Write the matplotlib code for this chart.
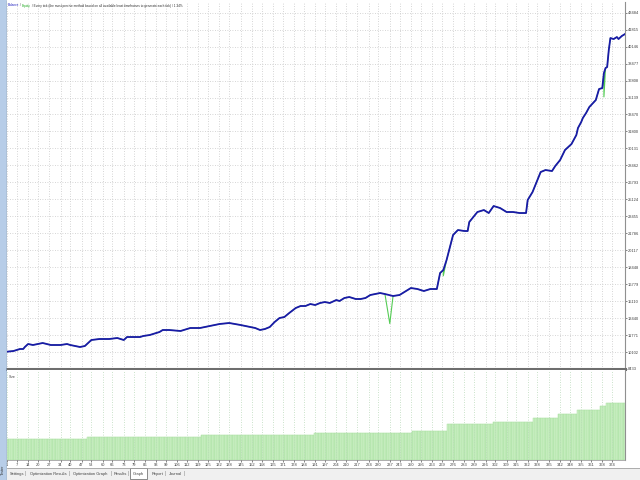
import matplotlib
matplotlib.use("Agg")
import matplotlib.pyplot as plt
from matplotlib import font_manager
from matplotlib.patches import Rectangle
from matplotlib.lines import Line2D
import numpy as np

# ---------------- data ----------------
bal_trade = [1, 5, 9, 11, 12, 14, 17, 23, 28, 34, 38, 40, 46, 49, 51, 53, 58, 64, 69, 73,
             75, 79, 83, 85, 89, 93, 95, 97, 101, 108, 114, 120, 126, 132, 138, 145, 151, 154,
             157, 160, 163, 166, 169, 172, 175, 179, 182, 185, 188, 191, 194, 197, 200, 204,
             206, 209, 212, 216, 219, 222, 225, 228, 231, 234, 239, 243, 250, 254, 258, 262,
             266, 268, 270, 272, 276, 279, 283, 285, 286, 291, 295, 298, 301, 305, 309, 313,
             317, 321, 322, 325, 328, 330, 333, 337, 339, 342, 345, 349, 352, 353, 355, 356,
             358, 360, 364, 366, 368, 369, 370, 371, 372, 373, 375, 377, 378, 380, 382]
bal_value = [10135, 10204, 10400, 10400, 10597, 10892, 10794, 10990, 10794, 10794, 10892,
             10794, 10597, 10695, 10990, 11285, 11384, 11384, 11482, 11285, 11580, 11580,
             11580, 11679, 11777, 11974, 12072, 12269, 12269, 12171, 12466, 12466, 12663,
             12859, 12958, 12761, 12564, 12466, 12269, 12367, 12564, 13056, 13449, 13548,
             13941, 14433, 14630, 14630, 14826, 14728, 14925, 15023, 14925, 15220, 15122,
             15417, 15515, 15318, 15318, 15417, 15712, 15810, 15908, 15810, 15613, 15712,
             16400, 16302, 16105, 16302, 16302, 17875, 18171, 19154, 21613, 22105, 22007,
             22007, 22892, 23876, 24072, 23777, 24466, 24269, 23876, 23876, 23777, 23777,
             25056, 25842, 27023, 27810, 28007, 27908, 28400, 28990, 29974, 30564, 31449,
             32138, 32728, 33122, 33613, 34203, 34892, 35974, 36072, 37548, 38040, 38138,
             39810, 40990, 40892, 41089, 40892, 41187, 41384]

# equity dips (trade, equity value)
eq_dip_trade = [237, 270, 369]
eq_dip_value = [12900, 17600, 35200]

# lot size steps (lot, number of trades)
size_lot = [0.10, 0.11, 0.12, 0.13, 0.14, 0.17, 0.18, 0.20, 0.22, 0.24, 0.26, 0.27]
size_count = [50, 70, 70, 60, 22, 28, 25, 15, 12, 14, 4, 12]

y_ticks = [8433, 10102, 11771, 13440, 15110, 16779, 18448, 20117, 21786, 23455, 25124,
           26793, 28462, 30131, 31800, 33470, 35139, 36808, 38477, 40146, 41815, 43484]
x_ticks = [1, 7, 14, 20, 27, 34, 40, 47, 53, 60, 66, 73, 79, 86, 93, 99, 106, 112, 119, 125,
           132, 138, 145, 152, 158, 165, 171, 178, 184, 191, 197, 204, 210, 217, 224, 230,
           237, 243, 250, 256, 263, 269, 276, 283, 289, 296, 302, 309, 315, 322, 328, 335,
           342, 348, 355, 361, 368, 374]
tabs = ["Settings", "Optimization Results", "Optimization Graph", "Results", "Graph",
        "Report", "Journal"]
header = ["Balance", " / ", "Equity",
          " / Every tick (the most precise method based on all available least timeframes to generate each tick) / 1.34%"]

# ---------------- style ----------------
names = {f.name for f in font_manager.fontManager.ttflist}
NARROW = "Liberation Sans Narrow" in names
FAM = ["Liberation Sans Narrow", "DejaVu Sans"] if NARROW else ["Liberation Sans", "DejaVu Sans"]
plt.rcParams["font.family"] = FAM
k = 1.0 if NARROW else 0.85

W, H = 640, 480
fig = plt.figure(figsize=(6.4, 4.8), dpi=100)
fig.patch.set_facecolor("white")

def fx(px):
    return px / W

def fy(py):
    return 1 - py / H

# left "Tester" strip
fig.patches.append(Rectangle((0, 0), fx(6), 1, transform=fig.transFigure,
                             facecolor="#b7cde8", edgecolor="none", zorder=0))
fig.add_artist(Line2D([fx(6), fx(6)], [0, 1], transform=fig.transFigure, color="#8aa6c8", lw=0.5))
fig.text(fx(3), fy(470), "Tester", rotation=90, fontsize=3.2 * k, ha="center", va="center", color="#333333")

# tab bar
fig.patches.append(Rectangle((fx(6.5), 0), 1, 12 / H, transform=fig.transFigure,
                             facecolor="#f0f0f0", edgecolor="none", zorder=0))
fig.add_artist(Line2D([fx(6.5), 1], [fy(468), fy(468)], transform=fig.transFigure, color="#a0a0a0", lw=0.6))
fig.patches.append(Rectangle((fx(130), fy(479)), fx(17), 11 / H, transform=fig.transFigure,
                             facecolor="white", edgecolor="#606060", lw=0.5, zorder=1))
tab_x = [10, 30, 73, 114, 133, 152, 169]
for t, x in zip(tabs, tab_x):
    fig.text(fx(x), fy(474), t, fontsize=3.4 * k, ha="left", va="center", color="#404040", zorder=2)
sep_x = [25, 69, 111, 128, 165, 184]
for x in sep_x:
    fig.text(fx(x), fy(474), "|", fontsize=3.4, ha="center", va="center", color="#808080")

# ---------------- main panel ----------------
ax1 = fig.add_axes([fx(7), fy(369), fx(618), 367 / H])
ax1.set_xlim(1, 382)
ax1.set_ylim(8433, 44536)

eq_t = list(bal_trade) + list(eq_dip_trade)
eq_v = list(bal_value) + list(eq_dip_value)
order = np.argsort(eq_t, kind="stable")
eq_t = np.array(eq_t)[order]
eq_v = np.array(eq_v)[order]
ax1.plot(eq_t, eq_v, color="#55cc55", lw=0.8, zorder=3)
ax1.plot(bal_trade, bal_value, color="#1a1aa8", lw=1.3, zorder=4)

ax1.set_xticks(x_ticks)
ax1.set_xticklabels([])
ax1.tick_params(axis="x", length=0)
ax1.yaxis.tick_right()
ax1.set_yticks(y_ticks)
ax1.set_yticklabels([str(v) for v in y_ticks])
ax1.tick_params(axis="y", labelsize=3.4 * k, length=1.5, width=0.5, pad=0.6,
                colors="#555555", labelcolor="#404040")
ax1.grid(True, ls=(0, (1, 2)), color="#c8c8c8", lw=0.6)
for s in ["left", "top"]:
    ax1.spines[s].set_visible(False)
ax1.spines["right"].set_color("#909090")
ax1.spines["right"].set_linewidth(0.8)
ax1.spines["bottom"].set_color("#6e6e6e")
ax1.spines["bottom"].set_linewidth(2.2)

# header text (multicolour)
renderer = fig.canvas.get_renderer()
colors = ["#2020c0", "#303030", "#22aa22", "#303030"]
xpos = fx(8)
for txt, c in zip(header, colors):
    t = fig.text(xpos, fy(5.5), txt, fontsize=2.7 * k, color=c, ha="left", va="center")
    bb = t.get_window_extent(renderer=renderer)
    xpos += bb.width / W

# ---------------- size panel ----------------
ax2 = fig.add_axes([fx(7), fy(460), fx(618), 90 / H])
sizes = np.repeat(size_lot, size_count)
trades = np.arange(1, len(sizes) + 1)
ax2.bar(trades, sizes, width=1.0, color="#cdf1c7", edgecolor="#a9e0a0", linewidth=0.35, zorder=2)
ax2.set_xlim(1, 382)
ax2.set_ylim(0, 0.43)
ax2.set_yticks([])
ax2.set_xticks(x_ticks)
ax2.set_xticklabels([str(v) for v in x_ticks])
ax2.tick_params(axis="x", labelsize=3.4 * k, length=1.5, width=0.5, pad=0.8,
                colors="#555555", labelcolor="#404040")
ax2.grid(True, axis="x", ls=(0, (1, 2)), color="#b8d8b8", lw=0.6, zorder=3)
ax2.set_axisbelow(False)
for s in ["left", "top"]:
    ax2.spines[s].set_visible(False)
ax2.spines["right"].set_color("#909090")
ax2.spines["right"].set_linewidth(0.8)
ax2.spines["bottom"].set_color("#a0a0a0")
ax2.spines["bottom"].set_linewidth(0.6)
ax2.text(0.003, 0.95, "Size", transform=ax2.transAxes, fontsize=3.0 * k, color="#404040", va="top", ha="left")

fig.savefig("out.png", dpi=100)
